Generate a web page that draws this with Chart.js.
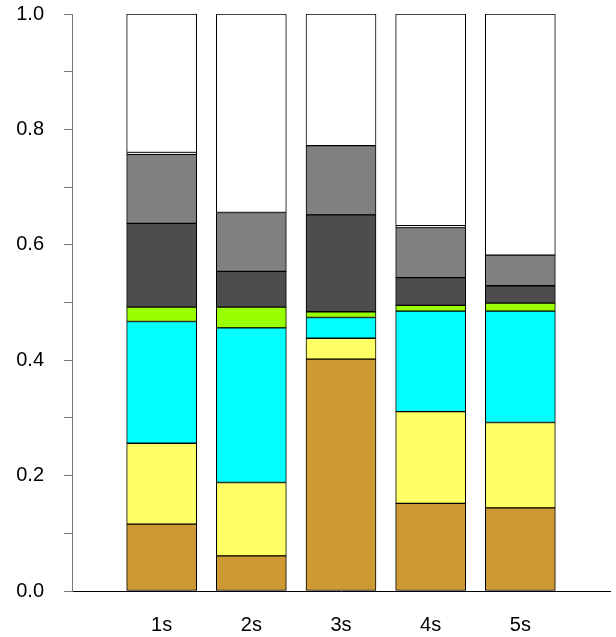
<!DOCTYPE html>
<html>
<head>
<meta charset="utf-8">
<script src="https://cdn.jsdelivr.net/npm/chart.js@4"></script>
<style>
  html, body { margin: 0; padding: 0; background: #fff; }
  #wrap { width: 616px; height: 637px; }
</style>
</head>
<body>
<div id="wrap"><canvas id="myChart"></canvas></div>
<script>
const categories = ['1s', '2s', '3s', '4s', '5s'];
const yTicks = [0.0, 0.2, 0.4, 0.6, 0.8, 1.0];

// stacked shares, bottom to top
const brown = [0.116, 0.061, 0.402, 0.152, 0.144];
const yellow = [0.140, 0.127, 0.036, 0.159, 0.148];
const cyan = [0.211, 0.268, 0.036, 0.174, 0.193];
const green = [0.025, 0.036, 0.010, 0.010, 0.014];
const darkGray = [0.145, 0.062, 0.168, 0.048, 0.030];
const gray = [0.120, 0.102, 0.120, 0.087, 0.053];
const thin = [0.003, 0.000, 0.000, 0.003, 0.000];
const white = [0.240, 0.344, 0.228, 0.367, 0.418];

const ctx = document.getElementById('myChart');

// empty slot on each side so the bars sit like the original
const labels = [''].concat(categories, ['']);
const pad = arr => [null].concat(arr, [null]);

const series = [
  { data: brown, color: '#cc9933' },
  { data: yellow, color: '#ffff66' },
  { data: cyan, color: '#00ffff' },
  { data: green, color: '#99ff00' },
  { data: darkGray, color: '#4d4d4d' },
  { data: gray, color: '#808080' },
  { data: thin, color: '#ffffff' },
  { data: white, color: '#ffffff' }
];

const font = { family: 'Liberation Sans', size: 20 };

new Chart(ctx, {
  type: 'bar',
  data: {
    labels: labels,
    datasets: series.map(s => ({
      data: pad(s.data),
      backgroundColor: s.color,
      borderColor: '#000',
      borderWidth: 1,
      borderSkipped: false,
      barThickness: 70
    }))
  },
  options: {
    responsive: true,
    maintainAspectRatio: false,
    animation: false,
    layout: { padding: { left: 0, right: 6, top: 14, bottom: 0 } },
    plugins: { legend: { display: false }, tooltip: { enabled: false } },
    scales: {
      x: {
        stacked: true,
        offset: false,
        grid: { drawOnChartArea: false, drawTicks: false },
        border: { display: true, color: '#000', width: 1 },
        ticks: { padding: 22, color: '#000', font: font, maxRotation: 0, autoSkip: false },
        afterFit: scale => {
          scale.height = 46;
          scale.paddingLeft = 0;
          scale.paddingRight = 0;
        }
      },
      y: {
        stacked: true,
        min: 0,
        max: 1,
        grid: { drawOnChartArea: false, drawTicks: true, tickLength: 8, color: '#777' },
        border: { display: true, color: '#777', width: 1 },
        ticks: {
          stepSize: 0.1,
          padding: 20,
          color: '#000',
          font: font,
          callback: v => {
            const t = yTicks.find(k => Math.abs(k - v) < 1e-6);
            return t === undefined ? '' : t.toFixed(1);
          }
        },
        afterFit: scale => {
          scale.width = 72;
          scale.paddingTop = 0;
          scale.paddingBottom = 0;
        }
      }
    }
  }
});
</script>
</body>
</html>
